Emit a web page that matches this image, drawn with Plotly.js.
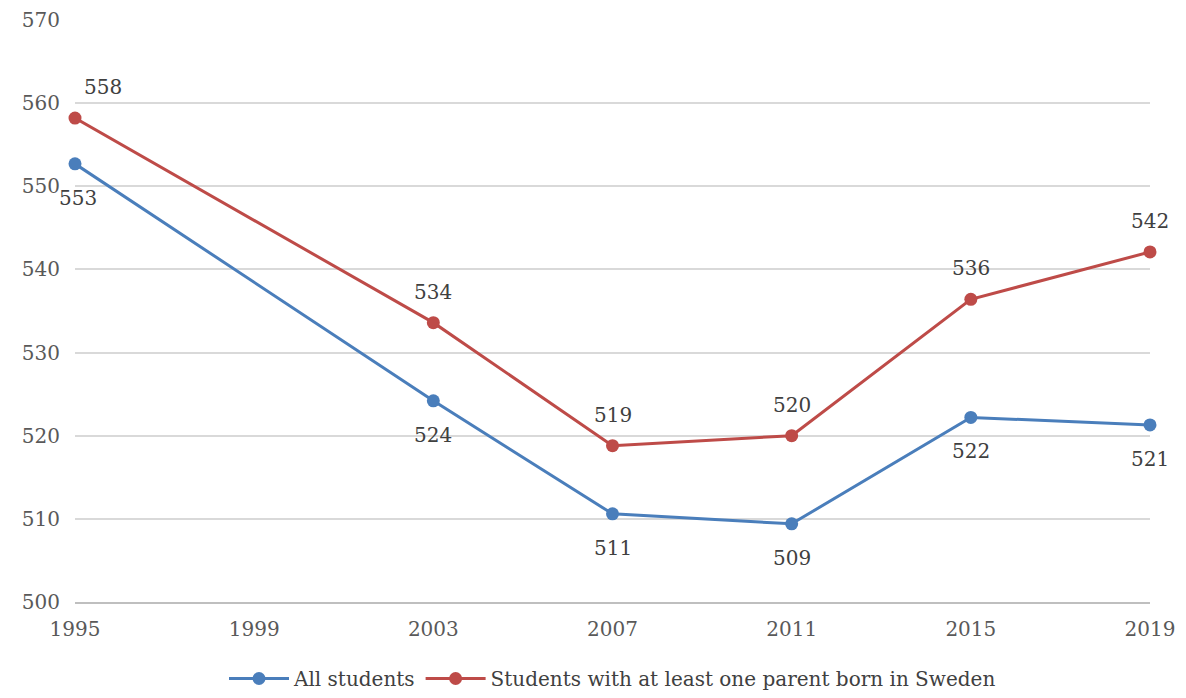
<!DOCTYPE html>
<html>
<head>
<meta charset="utf-8">
<script src="https://cdn.plot.ly/plotly-3.0.1.min.js"></script>
<style>body{margin:0}#plotDiv{width:1186px;height:698px}</style>
</head>
<body>
<div id="plotDiv"></div>
<script>
const years = [1995, 2003, 2007, 2011, 2015, 2019]
const allStudents = [552.7, 524.2, 510.6, 509.4, 522.2, 521.3]
const swedishParent = [558.2, 533.6, 518.8, 520.0, 536.4, 542.1]
const allLabels = ['553', '524', '511', '509', '522', '521']
const swedishLabels = ['558', '534', '519', '520', '536', '542']
const xTicks = [1995, 1999, 2003, 2007, 2011, 2015, 2019]

const font = {family: 'DejaVu Serif, serif', size: 20, color: '#404040'}

const traceAll = {
	name: 'All students',
	x: years, y: allStudents,
	mode: 'lines+markers',
	line: {color: '#4a7ebb', width: 3},
	marker: {color: '#4a7ebb', size: 13},
	cliponaxis: false
}
const traceSwe = {
	name: 'Students with at least one parent born in Sweden',
	x: years, y: swedishParent,
	mode: 'lines+markers',
	line: {color: '#be4b48', width: 3},
	marker: {color: '#be4b48', size: 13},
	cliponaxis: false
}

const annotations = []
years.forEach((yr, i) => {
	annotations.push({x: yr, y: allStudents[i], text: allLabels[i], showarrow: false,
		yshift: -34, xshift: i === 0 ? 3 : 0, font: font})
	annotations.push({x: yr, y: swedishParent[i], text: swedishLabels[i], showarrow: false,
		yshift: 31, xshift: i === 0 ? 28 : 0, font: font})
})

const layout = {
	width: 1186, height: 698,
	margin: {l: 75, r: 36, t: 20, b: 96, autoexpand: false},
	font: font,
	paper_bgcolor: '#fff', plot_bgcolor: '#fff',
	annotations: annotations,
	xaxis: {
		range: [1995, 2019], tickvals: xTicks, showgrid: false, zeroline: false,
		showline: true, linecolor: '#bfbfbf', linewidth: 1.5, ticks: '', ticklabelstandoff: 8,
		tickfont: {family: font.family, size: 20, color: '#595959'}
	},
	yaxis: {
		range: [500, 570], dtick: 10, gridcolor: '#d9d9d9', gridwidth: 1.5, zeroline: false,
		tickfont: {family: font.family, size: 20, color: '#595959'}, ticklabelstandoff: 14
	},
	showlegend: true,
	legend: {orientation: 'h', x: 0.5, xanchor: 'center', yref: 'container', y: 0, yanchor: 'bottom',
		itemwidth: 60, font: {family: font.family, size: 20, color: '#404040'}}
}
layout.margin.b = 96
Plotly.newPlot('plotDiv', [traceAll, traceSwe], layout, {displayModeBar: false})
</script>
</body>
</html>
